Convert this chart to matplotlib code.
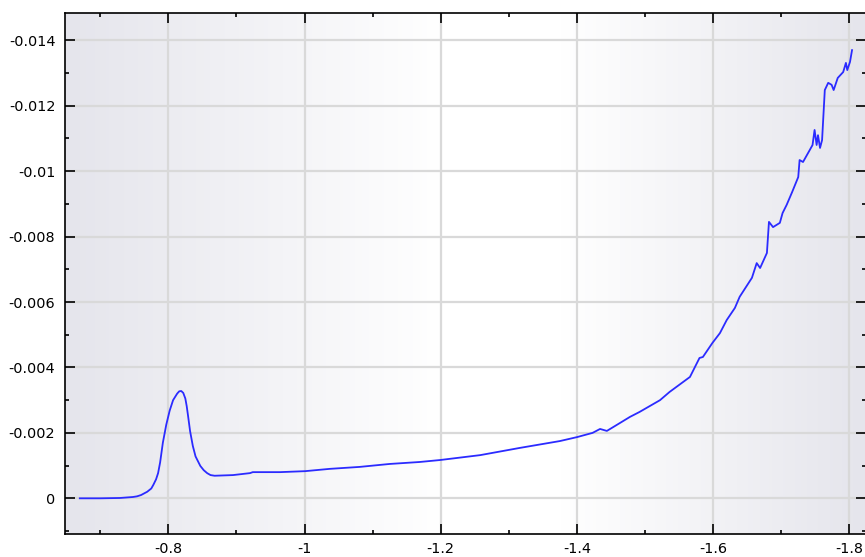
import numpy as np
import matplotlib
matplotlib.use("Agg")
import matplotlib.pyplot as plt
from matplotlib.ticker import FixedLocator, MultipleLocator

# potential (V) and current (A) read along the sweep
potential = [-0.670, -0.700, -0.729, -0.748, -0.754, -0.760, -0.769, -0.775, -0.778,
             -0.782, -0.785, -0.788, -0.792, -0.797, -0.802, -0.807, -0.813, -0.816,
             -0.819, -0.822, -0.825, -0.827, -0.829, -0.832, -0.836, -0.840, -0.847,
             -0.852, -0.857, -0.862, -0.868,
             -0.895, -0.920, -0.924, -0.964, -1.001, -1.037, -1.081, -1.125, -1.169,
             -1.199, -1.258, -1.316, -1.375, -1.400, -1.423, -1.434, -1.444, -1.463,
             -1.478, -1.492, -1.522, -1.536, -1.566, -1.580, -1.585, -1.599, -1.610,
             -1.620, -1.632, -1.639, -1.657, -1.664, -1.669, -1.679, -1.682, -1.688,
             -1.698, -1.702, -1.708, -1.716, -1.725, -1.727, -1.732, -1.742, -1.746,
             -1.749, -1.752, -1.754, -1.757, -1.760, -1.764, -1.769, -1.774, -1.777,
             -1.783, -1.791, -1.795, -1.797, -1.801, -1.804]
current = [0.0, 0.0, -0.00001, -0.00004, -0.00006, -0.0001, -0.0002, -0.00030, -0.00041,
           -0.00058, -0.00077, -0.0011, -0.00170, -0.00225, -0.00268, -0.00300, -0.00320, -0.00327,
           -0.00328, -0.00322, -0.00305, -0.00282, -0.00252, -0.00205, -0.00160, -0.00128, -0.00099,
           -0.00086, -0.00077, -0.00071, -0.00069,
           -0.00071, -0.00077, -0.00080, -0.00080, -0.00083, -0.00090, -0.00096, -0.00105, -0.00111,
           -0.00117, -0.00132, -0.00154, -0.00175, -0.00187, -0.00200, -0.00212, -0.00206, -0.00230,
           -0.00249, -0.00264, -0.00300, -0.00325, -0.00371, -0.00429, -0.00432, -0.00475, -0.00505,
           -0.00545, -0.00582, -0.00616, -0.00674, -0.00719, -0.00704, -0.00750, -0.00845, -0.00829,
           -0.00842, -0.00872, -0.00897, -0.00936, -0.00982, -0.01034, -0.01028, -0.01065, -0.01080,
           -0.01126, -0.01080, -0.01110, -0.01071, -0.01095, -0.01248, -0.01270, -0.01264, -0.01248,
           -0.01285, -0.01303, -0.01331, -0.01309, -0.01334, -0.01370]

x_ticks = [-0.8, -1.0, -1.2, -1.4, -1.6, -1.8]
x_labels = ["-0.8", "-1", "-1.2", "-1.4", "-1.6", "-1.8"]
y_ticks = [0, -0.002, -0.004, -0.006, -0.008, -0.01, -0.012, -0.014]
y_labels = ["0", "-0.002", "-0.004", "-0.006", "-0.008", "-0.01", "-0.012", "-0.014"]

fig = plt.figure(figsize=(8.65, 5.57), dpi=100)
ax = fig.add_axes([65 / 865, 1 - 534 / 557, 801 / 865, 521 / 557])

# grey-white-grey horizontal shading behind the plot
t = np.linspace(0, 1, 400)
w = np.interp(t, [0, 0.47, 0.62, 1], [0, 1, 1, 0])
edge = np.array([229, 229, 236]) / 255
col = edge[None, :] * (1 - w[:, None]) + w[:, None]
ax.imshow(col[None, :, :], extent=(0, 1, 0, 1), transform=ax.transAxes,
          aspect="auto", zorder=0, interpolation="bilinear")

ax.plot(potential, current, color="#2b2bff", lw=1.3, zorder=3,
        solid_joinstyle="round")

ax.set_xlim(-0.6483, -1.8245)
ax.set_ylim(0.001091, -0.014835)

ax.xaxis.set_major_locator(FixedLocator(x_ticks))
ax.set_xticklabels(x_labels)
ax.xaxis.set_minor_locator(MultipleLocator(0.1))
ax.yaxis.set_major_locator(FixedLocator(y_ticks))
ax.set_yticklabels(y_labels)
ax.yaxis.set_minor_locator(MultipleLocator(0.001))

ax.set_axisbelow(True)
ax.grid(True, which="major", color="#d9d9d9", lw=1.6)

ax.tick_params(which="both", direction="in", top=True, right=True,
               colors="black", labelsize=10.4, width=1.2)
ax.tick_params(which="major", length=7)
ax.tick_params(which="minor", length=3)
ax.tick_params(axis="y", pad=7)
ax.tick_params(axis="x", pad=5.5)
for s in ax.spines.values():
    s.set_linewidth(1.2)
    s.set_color("black")

fig.savefig("out.png", dpi=100)
